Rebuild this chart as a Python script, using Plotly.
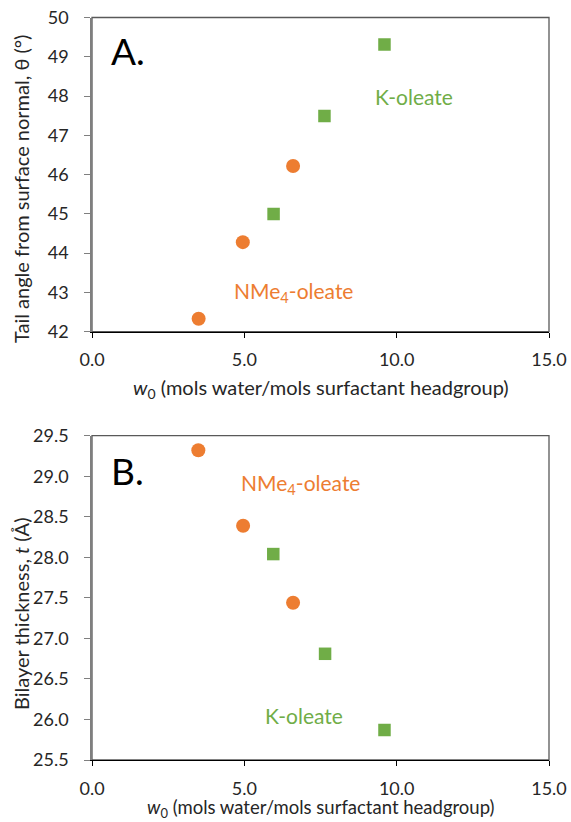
import plotly.graph_objects as go

# Data
nme4_w0_a = [3.5, 4.95, 6.6]
nme4_theta = [42.33, 44.28, 46.22]
k_w0_a = [5.96, 7.63, 9.6]
k_theta = [45.0, 47.49, 49.31]

nme4_w0_b = [3.49, 4.96, 6.6]
nme4_t = [29.32, 28.39, 27.44]
k_w0_b = [5.95, 7.65, 9.6]
k_t = [28.04, 26.81, 25.87]

x_ticks = [0, 5, 10, 15]
x_labels = ["0.0", "5.0", "10.0", "15.0"]
ya_ticks = [42, 43, 44, 45, 46, 47, 48, 49, 50]
yb_ticks = [25.5, 26.0, 26.5, 27.0, 27.5, 28.0, 28.5, 29.0, 29.5]
yb_labels = [f"{v:.1f}" for v in yb_ticks]

ORANGE = "#ED7D31"
GREEN = "#70AD47"
FONT = "Lato"
TXT = "#262626"

W, H = 571, 822


def px(x):
    return x / W


def py(y):
    return 1 - y / H


xdom = [px(92), px(549)]
ya_dom = [py(331.7), py(17.5)]
yb_dom = [py(760), py(435.7)]

fig = go.Figure()
fig.add_trace(go.Scatter(x=nme4_w0_a, y=nme4_theta, mode="markers", xaxis="x", yaxis="y",
                         marker=dict(symbol="circle", size=14, color=ORANGE), showlegend=False))
fig.add_trace(go.Scatter(x=k_w0_a, y=k_theta, mode="markers", xaxis="x", yaxis="y",
                         marker=dict(symbol="square", size=12.5, color=GREEN), showlegend=False))
fig.add_trace(go.Scatter(x=nme4_w0_b, y=nme4_t, mode="markers", xaxis="x2", yaxis="y2",
                         marker=dict(symbol="circle", size=14, color=ORANGE), showlegend=False))
fig.add_trace(go.Scatter(x=k_w0_b, y=k_t, mode="markers", xaxis="x2", yaxis="y2",
                         marker=dict(symbol="square", size=12.5, color=GREEN), showlegend=False))

xcommon = dict(range=[0, 15], tickvals=x_ticks, ticktext=x_labels, showgrid=False, zeroline=False,
               showline=True, linecolor="#000000", linewidth=1.3, ticks="outside", ticklen=5,
               tickcolor="#000000", tickfont=dict(family=FONT, size=18, color=TXT),
               ticklabelstandoff=7, ticklabeloverflow="allow", automargin=False, domain=xdom)
ycommon = dict(showgrid=False, zeroline=False, showline=True, linecolor="#7F7F7F", linewidth=1.5,
               ticks="outside", ticklen=6, tickcolor="#7F7F7F", ticklabelstandoff=12,
               ticklabeloverflow="allow",
               tickfont=dict(family=FONT, size=18, color=TXT), automargin=False)

fig.update_layout(
    width=W, height=H, margin=dict(l=0, r=0, t=0, b=0),
    plot_bgcolor="white", paper_bgcolor="white",
    xaxis=dict(**xcommon, anchor="y"),
    yaxis=dict(**ycommon, range=[42, 50], tickvals=ya_ticks, domain=ya_dom, anchor="x"),
    xaxis2=dict(**xcommon, anchor="y2"),
    yaxis2=dict(**ycommon, range=[25.5, 29.5], tickvals=yb_ticks, ticktext=yb_labels, domain=yb_dom,
                anchor="x2"),
)

# Plot-area frame (top/right border)
for xr, yr in [("x domain", "y domain"), ("x2 domain", "y2 domain")]:
    fig.add_shape(type="rect", xref=xr, yref=yr, x0=0, x1=1, y0=0, y1=1,
                  line=dict(color="#595959", width=1.3), layer="below")

# Axis titles
xtitle = "<i>w</i><sub>0</sub> (mols water/mols surfactant headgroup)"
tfont = dict(family=FONT, size=20, color=TXT)
fig.add_annotation(x=px(321), y=py(389), xref="paper", yref="paper", text=xtitle, showarrow=False,
                   xanchor="center", yanchor="middle", font=tfont)
fig.add_annotation(x=px(321), y=py(808.5), xref="paper", yref="paper", text=xtitle, showarrow=False,
                   xanchor="center", yanchor="middle", font=dict(family=FONT, size=18.5, color=TXT))
fig.add_annotation(x=px(21), y=py(189), xref="paper", yref="paper",
                   text="Tail angle from surface normal, θ (°)", textangle=-90, showarrow=False,
                   xanchor="center", yanchor="middle", font=tfont)
fig.add_annotation(x=px(21), y=py(614), xref="paper", yref="paper",
                   text="Bilayer thickness, <i>t</i> (Å)", textangle=-90, showarrow=False,
                   xanchor="center", yanchor="middle", font=tfont)

fig.add_annotation(x=px(109), y=py(50), xref="paper", yref="paper", text="A.", showarrow=False,
                   xanchor="left", yanchor="middle", font=dict(family=FONT, size=37, color="#000000"))
fig.add_annotation(x=px(109), y=py(470), xref="paper", yref="paper", text="B.", showarrow=False,
                   xanchor="left", yanchor="middle", font=dict(family=FONT, size=37, color="#000000"))

lfont = 21
fig.add_annotation(x=10.57, y=48.0, xref="x", yref="y", text="K-oleate", showarrow=False,
                   font=dict(family=FONT, size=lfont, color=GREEN))
fig.add_annotation(x=6.6, y=43.0, xref="x", yref="y", text="NMe<sub>4</sub>-oleate", showarrow=False,
                   font=dict(family=FONT, size=lfont, color=ORANGE))
fig.add_annotation(x=6.85, y=28.9, xref="x2", yref="y2", text="NMe<sub>4</sub>-oleate", showarrow=False,
                   font=dict(family=FONT, size=lfont, color=ORANGE))
fig.add_annotation(x=6.97, y=26.05, xref="x2", yref="y2", text="K-oleate", showarrow=False,
                   font=dict(family=FONT, size=lfont, color=GREEN))

# Remove the default 8px page margin so the figure fills the window exactly.
fig.write_html("out.html", config={"displayModeBar": False},
               post_script="document.body.style.margin='0px';")
